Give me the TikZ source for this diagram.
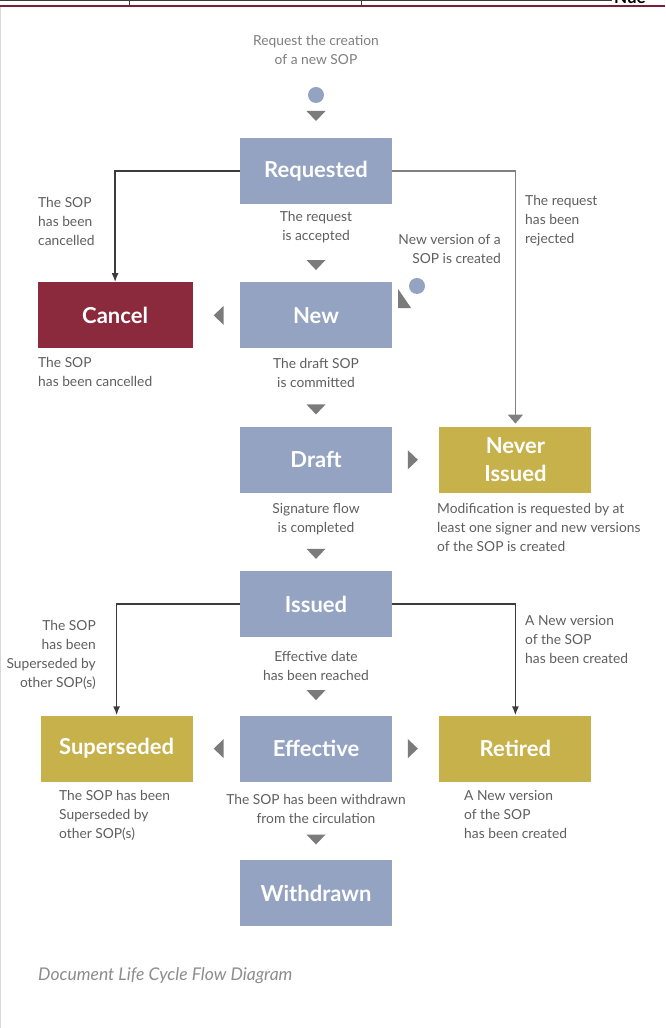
\documentclass[tikz,border=0pt]{standalone}
\usepackage{fontspec}
\setmainfont{Lato}
\usetikzlibrary{positioning,arrows.meta,calc}
\definecolor{stateFill}{HTML}{93A3C1}
\definecolor{cancelFill}{HTML}{8B2A3D}
\definecolor{endFill}{HTML}{C6B14B}
\definecolor{tipGray}{HTML}{7B7B7B}
\definecolor{noteText}{HTML}{5E5E5E}
\definecolor{lineDark}{HTML}{3C3C3C}
\definecolor{lineGray}{HTML}{808080}
\definecolor{headRed}{HTML}{7A1F35}

\begin{document}
\begin{tikzpicture}[
  x=1pt, y=1pt,
  node distance=78pt and 47pt,
  state/.style  ={fill=stateFill, minimum width=152pt, minimum height=66pt, inner sep=0pt, align=center, text=white, font=\fontsize{22}{28}\selectfont\bfseries},
  stopst/.style ={state, fill=cancelFill, minimum width=155pt},
  final/.style  ={state, fill=endFill},
  note/.style   ={text=noteText, font=\fontsize{13.8}{19}\selectfont, inner sep=0pt, align=center},
  dot/.style    ={circle, fill=stateFill, minimum size=16pt, inner sep=0pt},
  arr/.style    ={-{Latex[length=9pt, width=7pt]}, line width=1.6pt, lineDark},
  arrg/.style   ={-{Triangle[length=9pt, width=15pt]}, line width=1.6pt, lineGray, shorten >=3pt},
  tdown/.pic    ={\fill[tipGray] (-9.5,5) -- (9.5,5) -- (0,-5) -- cycle;},
]
\useasboundingbox (0,0) rectangle (665,1028);

% ============ Page header ============
\draw[lineDark, line width=0.8pt] (0,1027.5) -- (612,1027.5);
\draw[lineDark, line width=0.8pt] (129,1022) -- (129,1028) (361,1022) -- (361,1028);
\draw[headRed, line width=1.6pt] (0,1022) -- (665,1022);
\node[anchor=base west, inner sep=0pt, font=\fontsize{17}{17}\selectfont\bfseries] (hdr) at (614,1024.5) {Nue};
\draw[black!15, line width=0.8pt] (0.6,1021) -- (0.6,0);

% ============ States ============
\node[state] (req) at (316,857)  {Requested};
\node[state, below=of req]    (new)       {New};
\node[stopst, left=of new]    (cancel)    {Cancel};
\node[state, below=of new]    (draft)     {Draft};
\node[final, right=of draft]  (never)     {Never\\Issued};
\node[state, below=of draft]  (issued)    {Issued};
\node[state, below=of issued] (effective) {Effective};
\node[final, left=of effective]  (supers)  {Superseded};
\node[final, right=of effective] (retired) {Retired};
\node[state, below=of effective] (withdrawn) {Withdrawn};

% ============ Start point ============
\node[note, text=noteText!80] (startnote) at (316,978) {Request the creation\\of a new SOP};
\node[dot] (start) at (316,933) {};
\path (start) -- pic[pos=.37]{tdown} (req);

% ============ New version entry ============
\node[dot] (newver) at (417,742) {};
\fill[tipGray] ($(new.north east)+(6,-7)$) -- ++(0,-19) -- ++(13,0) -- cycle;
\node[note, anchor=east, align=right] (newvernote) at (501,779) {New version of a\\SOP is created};

% ============ Main line: text + triangle ============
\foreach \a/\b/\t/\p/\q in {req/new/{The request\\is accepted}/.30/.78,
                            new/draft/{The draft SOP\\is committed}/.31/.78,
                            draft/issued/{Signature flow\\is completed}/.34/.78,
                            issued/effective/{Effective date\\has been reached}/.36/.74,
                            effective/withdrawn/{The SOP has been withdrawn\\from the circulation}/.35/.74} {
  \path (\a) -- node[note, pos=\p] {\t} pic[pos=\q]{tdown} (\b);
}

% ============ Side triangles ============
\path (new) -- pic[pos=.45, rotate=-90]{tdown} (cancel);
\path (draft) -- pic[pos=.44, rotate=90]{tdown} (never);
\path (effective) -- pic[pos=.45, rotate=-90]{tdown} (supers);
\path (effective) -- pic[pos=.44, rotate=90]{tdown} (retired);

% ============ Branch arrows ============
\draw[arr]  (req.west) -| (cancel.north);
\draw[arrg] (req.east) -| (never.north);
\draw[arr]  (issued.west) -| (supers.north);
\draw[arr]  (issued.east) -| (retired.north);

% ============ Notes ============
\node[note, anchor=west, align=left]  (n1) at (38,807)    {The SOP\\has been\\cancelled};
\node[note, anchor=west, align=left]  (n2) at (525,807)   {The request\\has been\\rejected};
\node[note, anchor=west, align=left]  (n3) at (38,656.5)  {The SOP\\has been cancelled};
\node[note, anchor=west, align=left]  (n4) at (437,501)   {Modification is requested by at\\least one signer and new versions\\of the SOP is created};
\node[note, anchor=east, align=right] (n5) at (96,373.5)  {The SOP\\has been\\Superseded by\\other SOP(s)};
\node[note, anchor=west, align=left]  (n6) at (525,388)   {A New version\\of the SOP\\has been created};
\node[note, anchor=west, align=left]  (n7) at (59,213)    {The SOP has been\\Superseded by\\other SOP(s)};
\node[note, anchor=west, align=left]  (n8) at (464,213)   {A New version\\of the SOP\\has been created};

% ============ Caption ============
\node[anchor=west, inner sep=0pt, text=black!45, font=\fontsize{17.5}{17.5}\selectfont\itshape] (caption) at (38,52) {Document Life Cycle Flow Diagram};

\end{tikzpicture}
\end{document}
